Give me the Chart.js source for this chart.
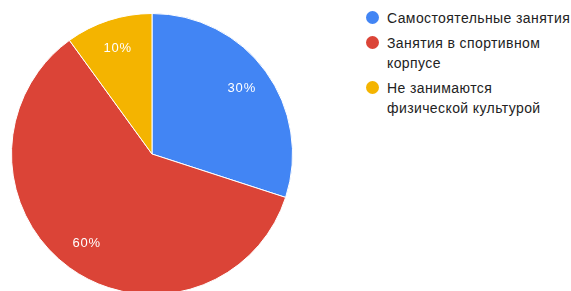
<!DOCTYPE html>
<html lang="ru">
<head>
    <meta charset="UTF-8">
    <title>Занятия физической культурой</title>
    <script src="https://cdn.jsdelivr.net/npm/chart.js"></script>
    <style>
        html, body { margin: 0; padding: 0; background: #fff; overflow: hidden; }
        .wrap { position: relative; width: 571px; height: 291px; overflow: hidden; }
        #pie { position: absolute; left: 0; top: 0; }
        .legend { position: absolute; left: 366px; top: 8px; font-family: "Liberation Sans", Arial, sans-serif; font-size: 14px; letter-spacing: 0.4px; color: #222; white-space: nowrap; }
        .item { position: relative; padding-left: 21px; line-height: 20px; margin-bottom: 5px; }
        .dot { position: absolute; left: 0; top: 3px; width: 13px; height: 13px; border-radius: 50%; }
    </style>
</head>
<body>
    <div class="wrap">
        <canvas id="pie" width="360" height="310"></canvas>
        <div class="legend" id="legend"></div>
    </div>

    <script>
        const categories = ['Самостоятельные занятия', 'Занятия в спортивном корпусе', 'Не занимаются физической культурой'];
        const legendLines = [['Самостоятельные занятия'], ['Занятия в спортивном', 'корпусе'], ['Не занимаются', 'физической культурой']];
        const values = [30, 60, 10];
        const colors = ['#4285F4', '#DB4437', '#F4B400'];

        // percent labels inside slices
        const pctLabels = {
            id: 'pctLabels',
            afterDatasetsDraw(chart) {
                const ctx = chart.ctx;
                const meta = chart.getDatasetMeta(0);
                const total = values.reduce((a, b) => a + b, 0);
                ctx.save();
                ctx.font = '13px "Liberation Sans", Arial, sans-serif';
                ctx.letterSpacing = '0.8px';
                ctx.fillStyle = '#fff';
                ctx.textAlign = 'center';
                ctx.textBaseline = 'middle';
                meta.data.forEach((arc, i) => {
                    const p = arc.getProps(['x', 'y', 'startAngle', 'endAngle', 'outerRadius'], true);
                    const mid = (p.startAngle + p.endAngle) / 2;
                    const r = p.outerRadius * 0.79;
                    const txt = Math.round(values[i] / total * 100) + '%';
                    ctx.fillText(txt, p.x + Math.cos(mid) * r, p.y + Math.sin(mid) * r);
                });
                ctx.restore();
            }
        };

        new Chart(document.getElementById('pie').getContext('2d'), {
            type: 'pie',
            data: {
                labels: categories,
                datasets: [{
                    data: values,
                    backgroundColor: colors,
                    borderColor: '#fff',
                    borderWidth: 1
                }]
            },
            options: {
                responsive: false,
                animation: false,
                devicePixelRatio: 1,
                layout: { padding: { left: 11, right: 67, top: 13, bottom: 15 } },
                plugins: {
                    legend: { display: false },
                    tooltip: { enabled: false }
                }
            },
            plugins: [pctLabels]
        });

        // legend
        const legend = document.getElementById('legend');
        legendLines.forEach((lines, i) => {
            const item = document.createElement('div');
            item.className = 'item';
            const dot = document.createElement('span');
            dot.className = 'dot';
            dot.style.background = colors[i];
            item.appendChild(dot);
            lines.forEach((l, j) => {
                if (j > 0) item.appendChild(document.createElement('br'));
                item.appendChild(document.createTextNode(l));
            });
            legend.appendChild(item);
        });
    </script>
</body>
</html>
